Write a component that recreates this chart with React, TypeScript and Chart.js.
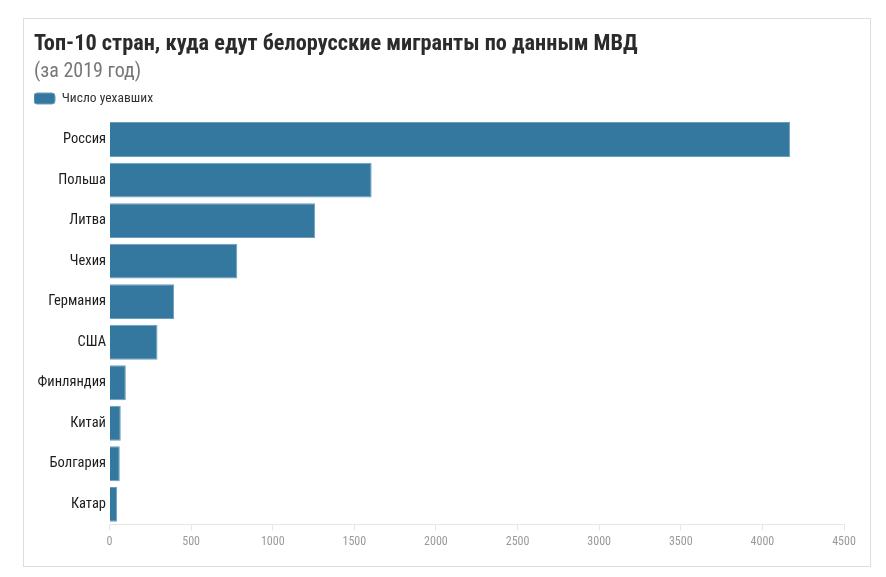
import React, { useEffect, useRef } from "react";
import { Chart, registerables } from "chart.js";

Chart.register(...registerables);

const TITLE = "Топ-10 стран, куда едут белорусские мигранты по данным МВД";
const SUBTITLE = "(за 2019 год)";
const SERIES_NAME = "Число уехавших";
const categories = ["Россия", "Польша", "Литва", "Чехия", "Германия", "США", "Финляндия", "Китай", "Болгария", "Катар"];
const values = [4170, 1606, 1260, 783, 396, 294, 100, 69, 63, 47];
const X_MIN = 0;
const X_MAX = 4500;
const X_STEP = 500;

const FONT = "'Roboto Condensed', 'Liberation Sans Narrow', 'DejaVu Sans Condensed', 'Roboto', sans-serif";

const legendSpacing = {
  id: "legendSpacing",
  beforeInit(chart: any) {
    const legend = chart.legend;
    if (!legend) return;
    const orig = legend.fit;
    legend.fit = function () {
      orig.call(this);
      this.height += 4;
    };
  },
};

export default function App() {
  const ref = useRef<HTMLCanvasElement | null>(null);
  useEffect(() => {
    if (!ref.current) return;
    const chart = new Chart(ref.current, {
      type: "bar",
      data: {
        labels: categories,
        datasets: [
          {
            label: SERIES_NAME,
            data: values,
            backgroundColor: "#35789f",
            borderColor: "#6a9fc0",
            borderWidth: 1,
            barPercentage: 0.86,
            categoryPercentage: 1,
          },
        ],
      },
      options: {
        indexAxis: "y",
        animation: false,
        responsive: true,
        maintainAspectRatio: false,
        layout: { padding: { left: 10, right: 26, top: 8, bottom: 13 } },
        plugins: {
          title: {
            display: true,
            text: TITLE,
            align: "start",
            color: "#2b2b2b",
            font: { family: FONT, size: 22.3, weight: "bold" },
            padding: { top: 4, bottom: 0 },
          },
          subtitle: {
            display: true,
            text: SUBTITLE,
            align: "start",
            color: "#777777",
            font: { family: FONT, size: 20, weight: "normal" },
            padding: { top: 2, bottom: 8 },
          },
          legend: {
            display: true,
            position: "top",
            align: "start",
            labels: {
              boxWidth: 21,
              boxHeight: 11,
              useBorderRadius: true,
              borderRadius: 3,
              color: "#333333",
              font: { family: FONT, size: 13.5 },
              padding: 0,
            },
          },
          tooltip: { enabled: false },
        },
        scales: {
          x: {
            min: X_MIN,
            max: X_MAX,
            ticks: {
              stepSize: X_STEP,
              color: "#9a9a9a",
              font: { family: FONT, size: 12 },
              padding: 4,
              callback: (v: any) => String(v),
            },
            grid: { drawOnChartArea: false, color: "#e6e6e6", tickLength: 6 },
            border: { color: "#e6e6e6" },
          },
          y: {
            ticks: {
              color: "#1c1c1c",
              font: { family: FONT, size: 14.5 },
              padding: 3.5,
            },
            grid: { display: false, drawTicks: false },
            border: { display: false },
          },
        },
      },
      plugins: [legendSpacing],
    });
    return () => chart.destroy();
  }, []);

  return (
    <div
      style={{
        marginLeft: 15,
        marginTop: 10,
        width: 848,
        height: 549,
        border: "1px solid #dedede",
        boxSizing: "border-box",
        background: "#fff",
        position: "relative",
      }}
    >
      <canvas ref={ref} />
    </div>
  );
}
